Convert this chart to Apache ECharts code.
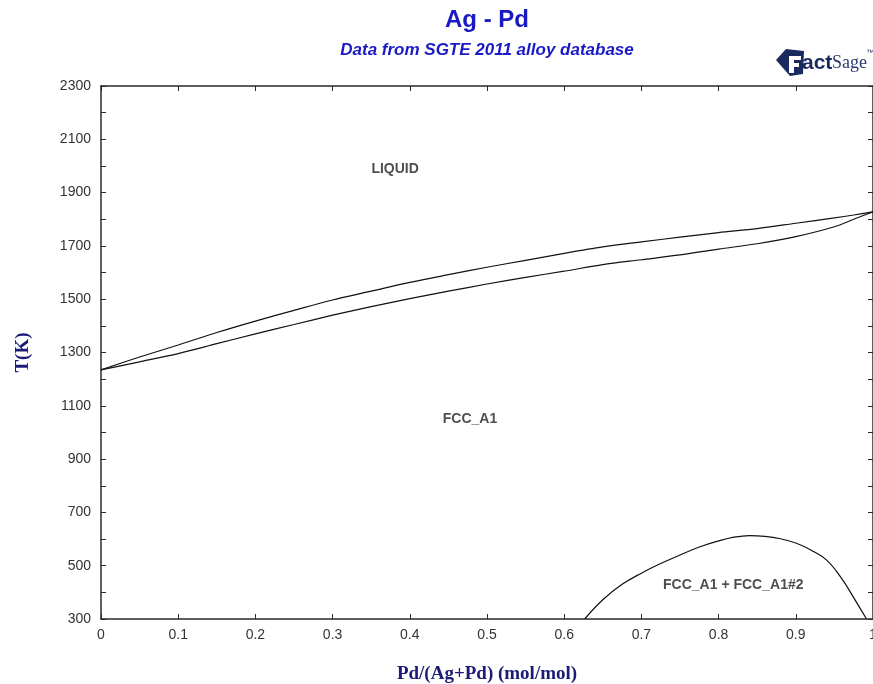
<!DOCTYPE html>
<html>
<head>
<meta charset="utf-8">
<title>Ag - Pd</title>
<script src="https://cdn.jsdelivr.net/npm/echarts@6/dist/echarts.min.js"></script>
<style>
  html, body { margin: 0; padding: 0; background: #ffffff; overflow: hidden; }
  #chart { width: 873px; height: 684px; }
</style>
</head>
<body>
<div id="chart"></div>
<script>
// Ag-Pd phase diagram: composition x = Pd/(Ag+Pd), temperature in K

// Liquidus (upper boundary of the two-phase loop)
const liquidusX = [0, 0.05, 0.1, 0.15, 0.2, 0.25, 0.3, 0.35, 0.4, 0.45, 0.5, 0.55, 0.6, 0.65, 0.7, 0.75, 0.8, 0.85, 0.9, 0.95, 0.975, 1.0];
const liquidusT = [1235, 1283, 1328, 1375, 1418, 1458, 1497, 1530, 1563, 1592, 1620, 1646, 1672, 1696, 1715, 1733, 1750, 1765, 1785, 1805, 1816, 1828];

// Solidus (lower boundary of the two-phase loop)
const solidusX = [0, 0.05, 0.1, 0.15, 0.2, 0.25, 0.3, 0.35, 0.4, 0.45, 0.5, 0.55, 0.6, 0.65, 0.7, 0.75, 0.8, 0.85, 0.9, 0.95, 0.975, 1.0];
const solidusT = [1235, 1265, 1296, 1333, 1370, 1405, 1440, 1472, 1502, 1530, 1557, 1582, 1605, 1630, 1648, 1666, 1688, 1708, 1735, 1772, 1800, 1828];

// Miscibility gap FCC_A1 + FCC_A1#2
const gapX = [0.6265, 0.65, 0.675, 0.7, 0.725, 0.75, 0.775, 0.8, 0.82, 0.84, 0.86, 0.88, 0.9, 0.92, 0.94, 0.96, 0.975, 0.9916];
const gapT = [300, 372, 430, 472, 508, 540, 570, 593, 607, 613, 610, 601, 585, 558, 521, 450, 380, 300];

// Phase-field labels
const phaseNames = ['LIQUID', 'FCC_A1', 'FCC_A1 + FCC_A1#2'];
const phaseX = [0.381, 0.478, 0.819];
const phaseT = [1988, 1050, 428];

// Tick labels
const xTickLabels = [0, 0.1, 0.2, 0.3, 0.4, 0.5, 0.6, 0.7, 0.8, 0.9, 1];
const yTickLabels = [300, 500, 700, 900, 1100, 1300, 1500, 1700, 1900, 2100, 2300];

const zip = (xs, ys) => xs.map((x, i) => [x, ys[i]]);

const chart = echarts.init(document.getElementById('chart'), null, { renderer: 'canvas' });

const sansFont = '"Liberation Sans", Arial, sans-serif';
const serifFont = '"Liberation Serif", "Times New Roman", serif';
const axisColor = '#2a2a2a';

const curveStyle = { color: '#111111', width: 1.2 };

const option = {
  backgroundColor: '#ffffff',
  animation: false,
  grid: { left: 101, right: 0, top: 86, bottom: 65, containLabel: false, outerBoundsMode: 'none' },
  xAxis: [
    {
      type: 'value', min: 0, max: 1, interval: 0.1, position: 'bottom',
      name: 'Pd/(Ag+Pd) (mol/mol)', nameLocation: 'middle', nameGap: 46,
      nameTextStyle: { fontFamily: serifFont, fontWeight: 'bold', fontSize: 19, color: '#1c1c78' },
      axisLine: { show: true, onZero: false, lineStyle: { color: axisColor, width: 1.5 } },
      axisTick: { show: true, inside: true, length: 5, lineStyle: { color: axisColor } },
      axisLabel: {
        show: true, margin: 9, fontFamily: sansFont, fontSize: 14, color: '#333333',
        customValues: xTickLabels,
        formatter: v => String(Math.round(v * 10) / 10)
      },
      splitLine: { show: false }
    },
    {
      type: 'value', min: 0, max: 1, interval: 0.1, position: 'top',
      axisLine: { show: true, onZero: false, lineStyle: { color: axisColor, width: 1.5 } },
      axisTick: { show: true, inside: true, length: 5, lineStyle: { color: axisColor } },
      axisLabel: { show: false },
      splitLine: { show: false }
    }
  ],
  yAxis: [
    {
      type: 'value', min: 300, max: 2300, interval: 100, position: 'left',
      name: 'T(K)', nameLocation: 'middle', nameGap: 68, nameRotate: 90,
      nameTextStyle: { fontFamily: serifFont, fontWeight: 'bold', fontSize: 19, color: '#1c1c78' },
      axisLine: { show: true, onZero: false, lineStyle: { color: axisColor, width: 1.5 } },
      axisTick: { show: true, inside: true, length: 5, lineStyle: { color: axisColor } },
      axisLabel: {
        show: true, margin: 10, fontFamily: sansFont, fontSize: 14, color: '#333333',
        customValues: yTickLabels,
        formatter: v => String(v)
      },
      splitLine: { show: false }
    },
    {
      type: 'value', min: 300, max: 2300, interval: 100, position: 'right',
      axisLine: { show: true, onZero: false, lineStyle: { color: axisColor, width: 1.5 } },
      axisTick: { show: true, inside: true, length: 5, lineStyle: { color: axisColor } },
      axisLabel: { show: false },
      splitLine: { show: false }
    }
  ],
  series: [
    {
      name: 'liquidus', type: 'line', xAxisIndex: 0, yAxisIndex: 0,
      data: zip(liquidusX, liquidusT), showSymbol: false, smooth: 0.3,
      lineStyle: curveStyle, silent: true
    },
    {
      name: 'solidus', type: 'line', xAxisIndex: 0, yAxisIndex: 0,
      data: zip(solidusX, solidusT), showSymbol: false, smooth: 0.3,
      lineStyle: curveStyle, silent: true
    },
    {
      name: 'miscibility gap', type: 'line', xAxisIndex: 0, yAxisIndex: 0,
      data: zip(gapX, gapT), showSymbol: false, smooth: 0.4,
      lineStyle: curveStyle, silent: true
    },
    {
      name: 'phase labels', type: 'scatter', xAxisIndex: 0, yAxisIndex: 0,
      symbolSize: 0, silent: true,
      data: phaseX.map((x, i) => ({ value: [x, phaseT[i]], name: phaseNames[i] })),
      label: {
        show: true, position: 'inside', formatter: p => p.name,
        fontFamily: sansFont, fontWeight: 'bold', fontSize: 14, color: '#222222'
      }
    }
  ],
  graphic: [
    {
      type: 'text', x: 487, y: 20,
      style: {
        text: 'Ag - Pd', fill: '#1a1ac4', font: 'bold 24px ' + sansFont,
        textAlign: 'center', textVerticalAlign: 'middle'
      }
    },
    {
      type: 'text', x: 487, y: 50,
      style: {
        text: 'Data from SGTE 2011 alloy database', fill: '#1a1ac4',
        font: 'italic bold 17px ' + sansFont,
        textAlign: 'center', textVerticalAlign: 'middle'
      }
    },
    // FactSage logo mark
    {
      type: 'polygon',
      shape: { points: [[776, 60], [786, 49], [804, 51], [803, 74], [790, 76]] },
      style: { fill: '#1b2a5e' }
    },
    {
      type: 'polygon',
      shape: { points: [[789, 56], [801, 56], [801, 60], [794, 60], [794, 63], [799, 63], [799, 67], [794, 67], [794, 73], [789, 73]] },
      style: { fill: '#ffffff' }
    },
    {
      type: 'text', x: 802, y: 63,
      style: {
        text: 'act', fill: '#1b2a5e', font: 'bold 21px ' + sansFont,
        textAlign: 'left', textVerticalAlign: 'middle'
      }
    },
    {
      type: 'text', x: 832, y: 63,
      style: {
        text: 'Sage', fill: '#2a3a6e', font: '18px ' + serifFont,
        textAlign: 'left', textVerticalAlign: 'middle'
      }
    },
    {
      type: 'text', x: 866, y: 53,
      style: {
        text: '™', fill: '#1b2a5e', font: '8px ' + sansFont,
        textAlign: 'left', textVerticalAlign: 'middle'
      }
    }
  ]
};

chart.setOption(option);
</script>
</body>
</html>
